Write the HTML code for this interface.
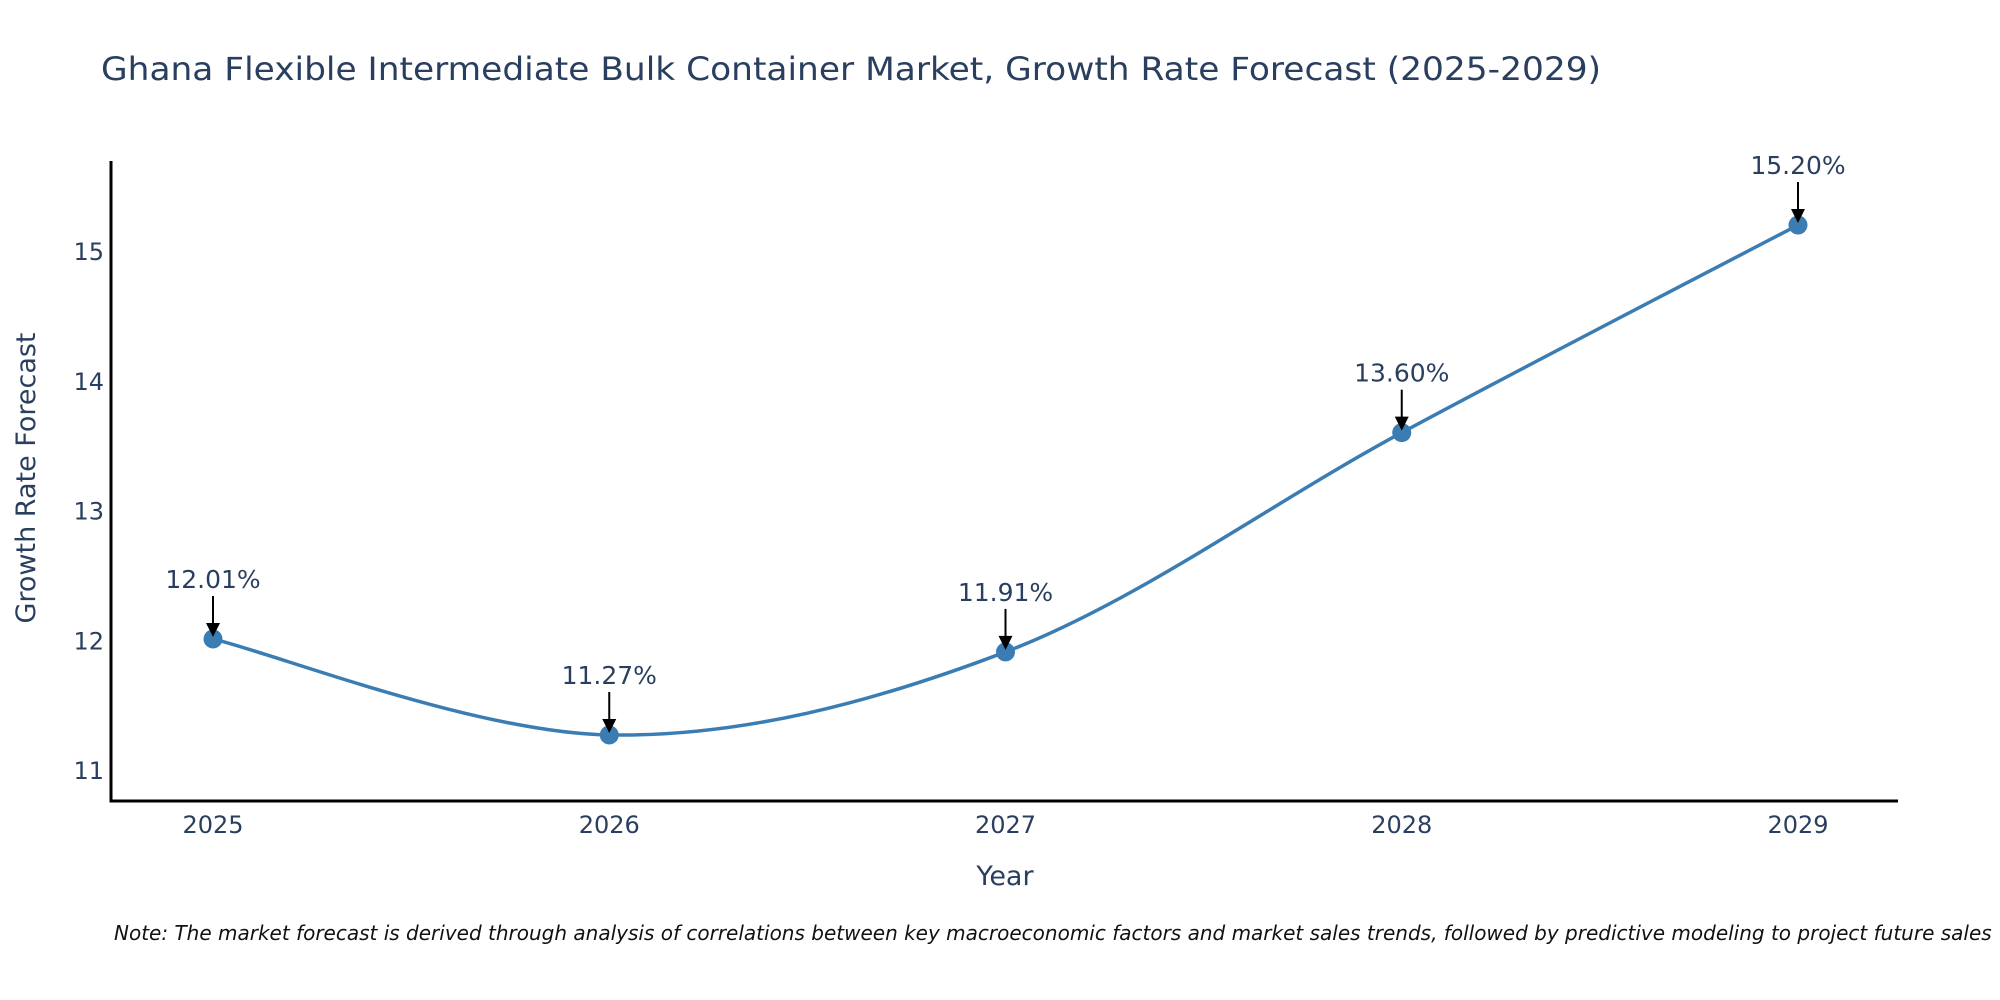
<!DOCTYPE html>
<html><head><meta charset="utf-8"><style>
html,body{margin:0;padding:0;background:#fff;}
svg{display:block;font-family:"DejaVu Sans","Liberation Sans",sans-serif;}
</style></head><body>
<svg id="chart" width="2000" height="1000" viewBox="0 0 2000 1000">
<rect x="0" y="0" width="2000" height="1000" fill="#fff"/>
<text x="101" y="80" font-size="32" fill="#2a3f5f" textLength="1500" lengthAdjust="spacingAndGlyphs">Ghana Flexible Intermediate Bulk Container Market, Growth Rate Forecast (2025-2029)</text>
<g id="plot"></g>
<text x="1005" y="885" font-size="27" fill="#2a3f5f" text-anchor="middle">Year</text>
<text transform="translate(35,478) rotate(-90)" font-size="27" fill="#2a3f5f" text-anchor="middle">Growth Rate Forecast</text>
<text x="114" y="940" font-size="20" font-style="italic" fill="#111">Note: The market forecast is derived through analysis of correlations between key macroeconomic factors and market sales trends, followed by predictive modeling to project future sales</text>
</svg>
<script>
const years = [2025, 2026, 2027, 2028, 2029];
const values = [12.01, 11.27, 11.91, 13.60, 15.20];
const valueLabels = ["12.01%", "11.27%", "11.91%", "13.60%", "15.20%"];
const yTicks = [11, 12, 13, 14, 15];

const NS = "http://www.w3.org/2000/svg";
const g = document.getElementById("plot");
const X0 = 111, X1 = 1898, Ytop = 161, Ybot = 801;
function xs(yr){ return 213 + (yr - 2025) * 396.25; }
function ys(v){ return 770 - (v - 11) * 129.75; }
function mk(tag, attrs){ const e = document.createElementNS(NS, tag); for (const k in attrs) e.setAttribute(k, attrs[k]); g.appendChild(e); return e; }

let e;
e = mk("line", {x1:X0, y1:Ytop, x2:X0, y2:Ybot+1.5, stroke:"#000", "stroke-width":3});


e = mk("line", {x1:X0-1.5, y1:Ybot, x2:X1, y2:Ybot, stroke:"#000", "stroke-width":3});



yTicks.forEach(t => {
  const el = mk("text", {x:104, y:ys(t)+9, "font-size":24, fill:"#2a3f5f", "text-anchor":"end"});
  el.textContent = t;
  
  
});
years.forEach(yr => {
  const el = mk("text", {x:xs(yr), y:833, "font-size":24, fill:"#2a3f5f", "text-anchor":"middle"});
  el.textContent = yr;
  
  
});

const pts = years.map((yr, i) => [xs(yr), ys(values[i])]);
let d = "M" + pts[0][0] + "," + pts[0][1];
for (let i = 0; i < pts.length - 1; i++) {
  const p0 = pts[Math.max(0, i-1)], p1 = pts[i], p2 = pts[i+1], p3 = pts[Math.min(pts.length-1, i+2)];
  const t = 1/6;
  const c1 = [p1[0] + (p2[0]-p0[0])*t, p1[1] + (p2[1]-p0[1])*t];
  const c2 = [p2[0] - (p3[0]-p1[0])*t, p2[1] - (p3[1]-p1[1])*t];
  d += " C" + c1[0] + "," + c1[1] + " " + c2[0] + "," + c2[1] + " " + p2[0] + "," + p2[1];
}
e = mk("path", {d:d, fill:"none", stroke:"#3b7db3", "stroke-width":3.5});



pts.forEach((p, i) => {
  const c = mk("circle", {cx:p[0], cy:p[1], r:9.5, fill:"#3b7db3"});
  
  
  const ln = mk("line", {x1:p[0], y1:p[1]-43, x2:p[0], y2:p[1]-14, stroke:"#000", "stroke-width":2});
  
  
  const hd = mk("path", {d:"M"+(p[0]-7)+","+(p[1]-16)+" L"+(p[0]+7)+","+(p[1]-16)+" L"+p[0]+","+(p[1]-2)+" Z", fill:"#000"});
  
  
  const tx = mk("text", {x:p[0], y:p[1]-51, "font-size":25, fill:"#2a3f5f", "text-anchor":"middle"});
  tx.textContent = valueLabels[i];
  
  
});
</script>
</body></html>
